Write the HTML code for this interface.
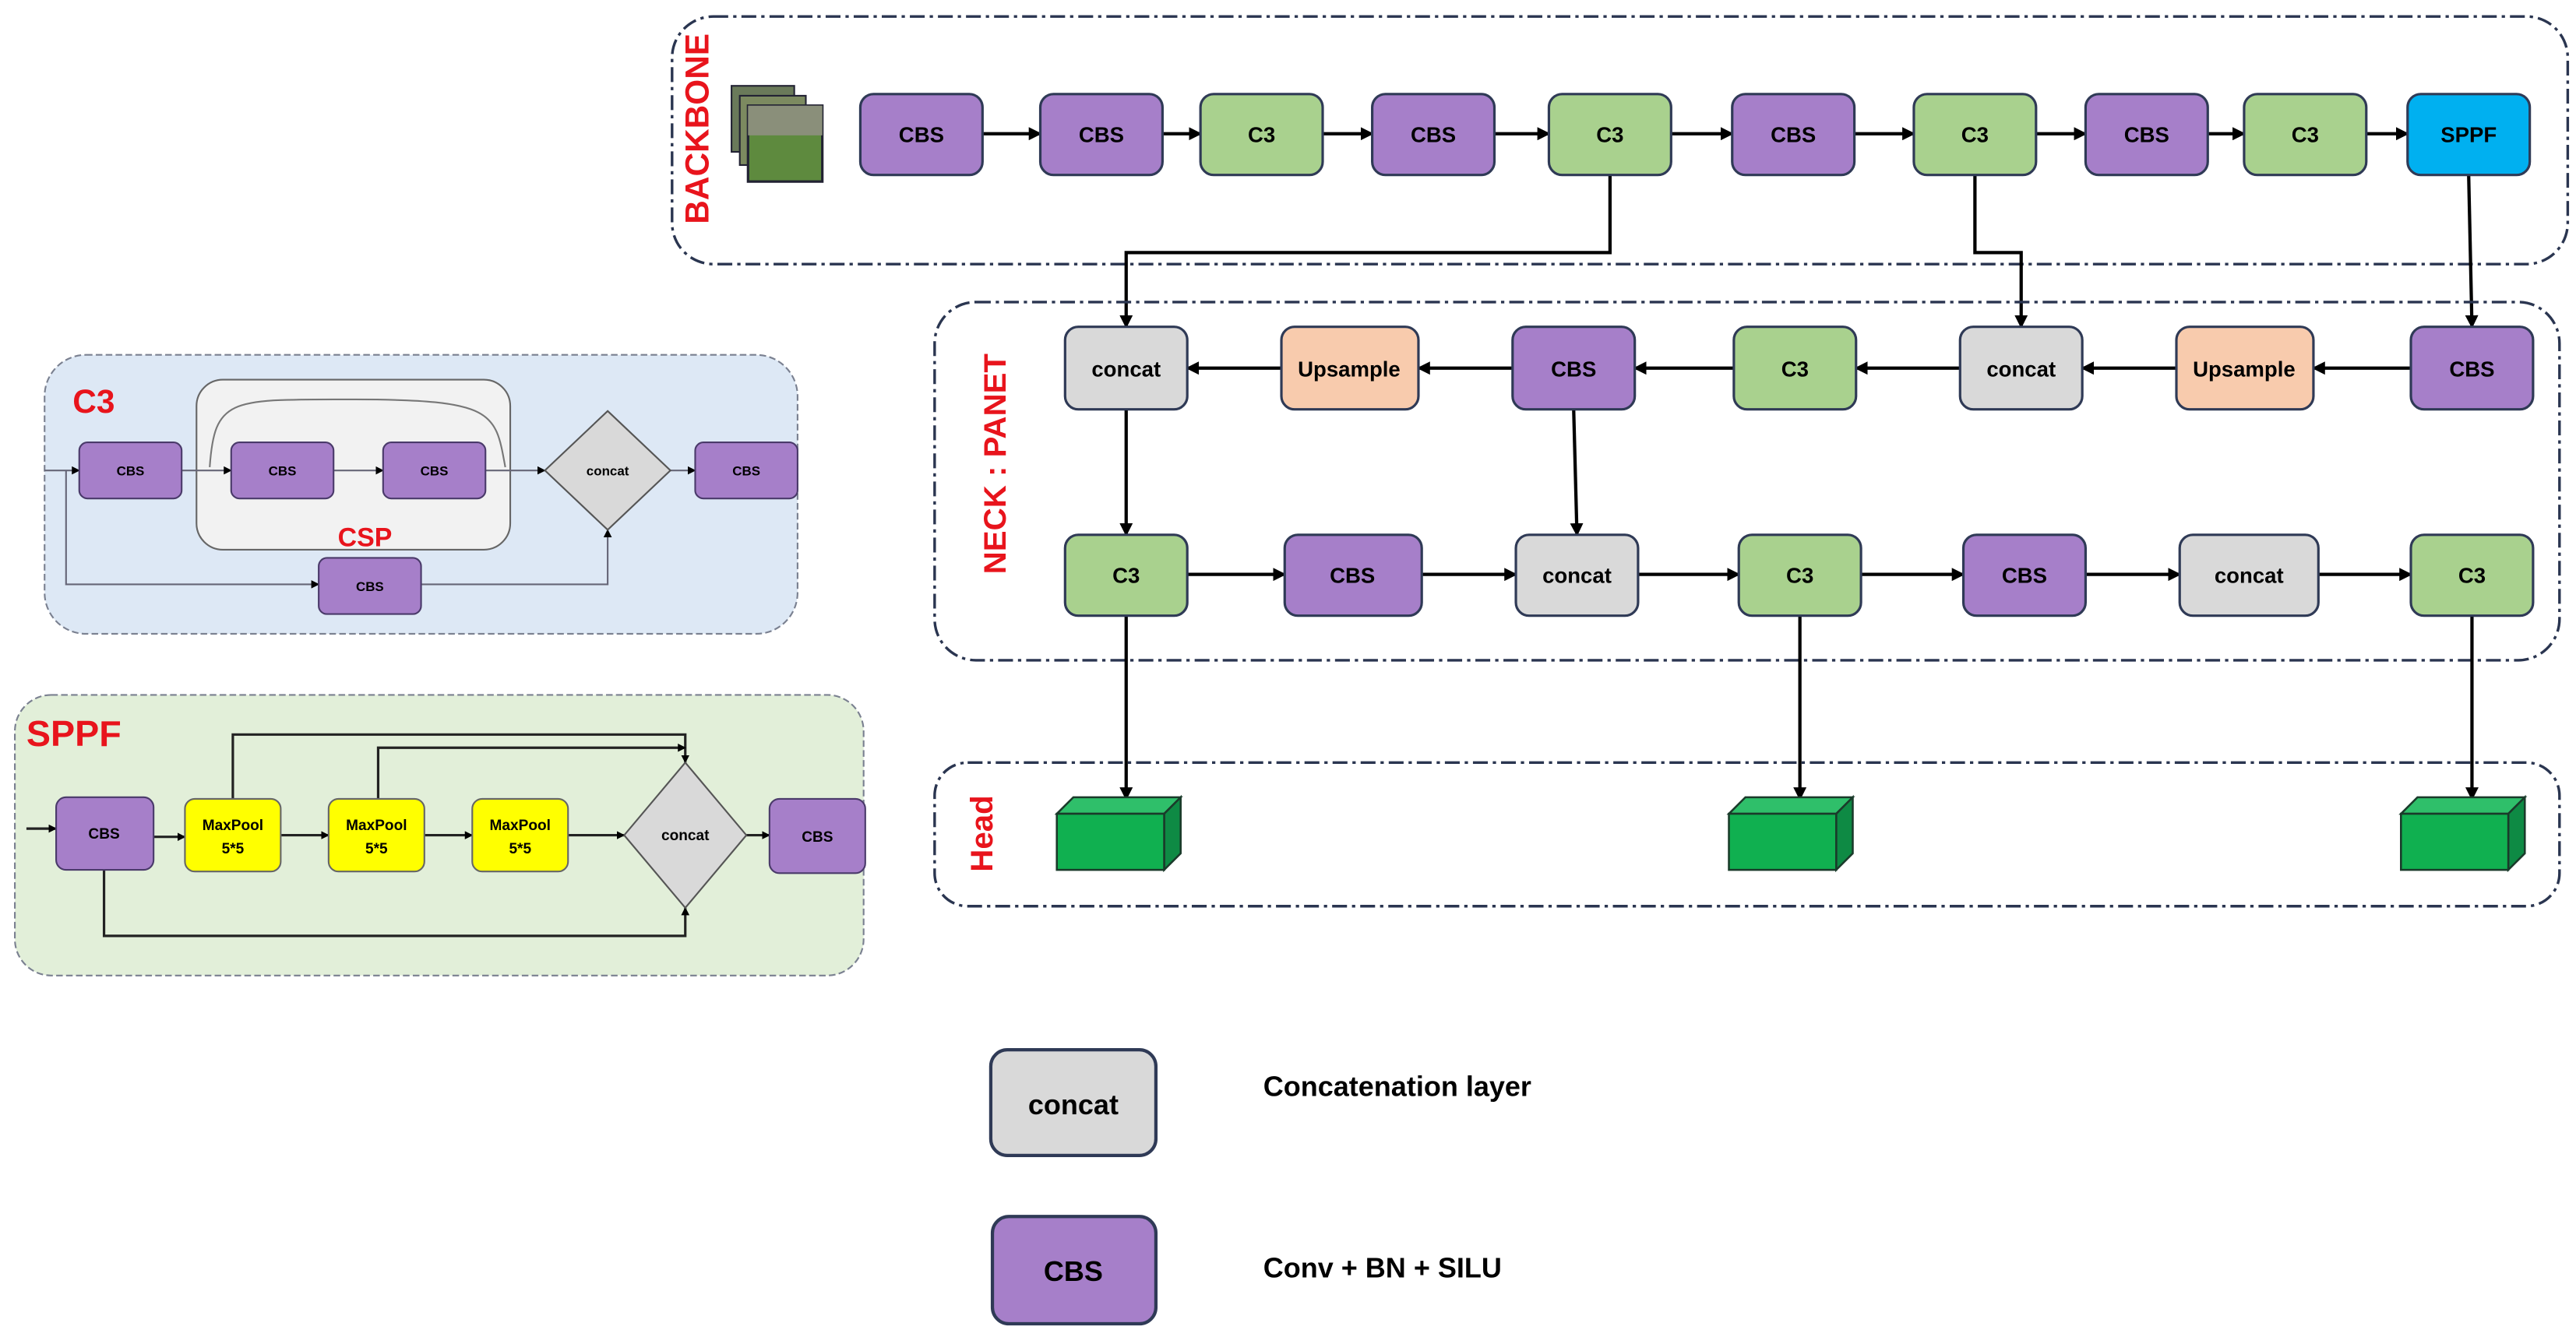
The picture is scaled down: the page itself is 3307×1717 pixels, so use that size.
<!DOCTYPE html>
<html><head><meta charset="utf-8"><style>html,body{margin:0;padding:0;background:#fff}svg{display:block}text{font-family:"Liberation Sans Narrow","Liberation Sans",sans-serif;font-weight:bold}</style></head>
<body>
<svg width="3307" height="1717" viewBox="0 0 1560 810" preserveAspectRatio="none" xmlns="http://www.w3.org/2000/svg">
<defs>
<marker id="a" markerWidth="8" markerHeight="8" refX="7" refY="4" orient="auto" markerUnits="userSpaceOnUse"><path d="M0,0 L8,4 L0,8 z" fill="#000"/></marker>
<marker id="s" markerWidth="5" markerHeight="5" refX="4.5" refY="2.5" orient="auto" markerUnits="userSpaceOnUse"><path d="M0,0 L5,2.5 L0,5 z" fill="#000"/></marker>
</defs>
<rect width="1560" height="810" fill="#fff"/>
<!-- Backbone -->
<rect x="407" y="10" width="1148" height="150" rx="25" fill="none" stroke="#2a3550" stroke-width="1.6" stroke-dasharray="9,3,2,3"/>
<text transform="translate(429,78) rotate(-90)" text-anchor="middle" font-size="20" fill="#e8141c" font-family="Liberation Sans">BACKBONE</text>
<rect x="443" y="52" width="38" height="40" fill="#6a7a5a" stroke="#223" stroke-width="1"/>
<rect x="448" y="58" width="40" height="42" fill="#7c8a60" stroke="#223" stroke-width="1"/>
<rect x="453" y="64" width="45" height="46" fill="#5e8a3e" stroke="#223" stroke-width="1.5"/>
<rect x="453" y="64" width="45" height="18" fill="#8a8f7a"/>
<g stroke="#000" stroke-width="2" marker-end="url(#a)" fill="none">
<line x1="595" y1="81" x2="630" y2="81"/><line x1="704" y1="81" x2="727" y2="81"/><line x1="801" y1="81" x2="831" y2="81"/><line x1="905" y1="81" x2="938" y2="81"/><line x1="1012" y1="81" x2="1049" y2="81"/><line x1="1123" y1="81" x2="1159" y2="81"/><line x1="1233" y1="81" x2="1263" y2="81"/><line x1="1337" y1="81" x2="1359" y2="81"/><line x1="1433" y1="81" x2="1458" y2="81"/>
<polyline points="975,106 975,153 682,153 682,198"/>
<polyline points="1196,106 1196,153 1224,153 1224,198"/>
<line x1="1495" y1="106" x2="1497" y2="198"/>
</g>
<g stroke="#2f3a56" stroke-width="1.5" font-size="13" text-anchor="middle">
<rect x="521" y="57" width="74" height="49" rx="8" fill="#a67fc9"/><text x="558" y="86" stroke="none">CBS</text>
<rect x="630" y="57" width="74" height="49" rx="8" fill="#a67fc9"/><text x="667" y="86" stroke="none">CBS</text>
<rect x="727" y="57" width="74" height="49" rx="8" fill="#a9d18e"/><text x="764" y="86" stroke="none">C3</text>
<rect x="831" y="57" width="74" height="49" rx="8" fill="#a67fc9"/><text x="868" y="86" stroke="none">CBS</text>
<rect x="938" y="57" width="74" height="49" rx="8" fill="#a9d18e"/><text x="975" y="86" stroke="none">C3</text>
<rect x="1049" y="57" width="74" height="49" rx="8" fill="#a67fc9"/><text x="1086" y="86" stroke="none">CBS</text>
<rect x="1159" y="57" width="74" height="49" rx="8" fill="#a9d18e"/><text x="1196" y="86" stroke="none">C3</text>
<rect x="1263" y="57" width="74" height="49" rx="8" fill="#a67fc9"/><text x="1300" y="86" stroke="none">CBS</text>
<rect x="1359" y="57" width="74" height="49" rx="8" fill="#a9d18e"/><text x="1396" y="86" stroke="none">C3</text>
<rect x="1458" y="57" width="74" height="49" rx="8" fill="#00b0f0"/><text x="1495" y="86" stroke="none">SPPF</text>
</g>
<!-- Neck -->
<rect x="566" y="183" width="984" height="217" rx="25" fill="none" stroke="#2a3550" stroke-width="1.6" stroke-dasharray="9,3,2,3"/>
<text transform="translate(609,281) rotate(-90)" text-anchor="middle" font-size="19" fill="#e8141c" font-family="Liberation Sans">NECK : PANET</text>
<g stroke="#000" stroke-width="2" marker-end="url(#a)" fill="none">
<line x1="1460" y1="223" x2="1401" y2="223"/><line x1="1318" y1="223" x2="1261" y2="223"/><line x1="1187" y1="223" x2="1124" y2="223"/><line x1="1050" y1="223" x2="990" y2="223"/><line x1="916" y1="223" x2="859" y2="223"/><line x1="776" y1="223" x2="719" y2="223"/>
<line x1="682" y1="248" x2="682" y2="324"/><line x1="953" y1="248" x2="955" y2="324"/>
<line x1="719" y1="348" x2="778" y2="348"/><line x1="861" y1="348" x2="918" y2="348"/><line x1="992" y1="348" x2="1053" y2="348"/><line x1="1127" y1="348" x2="1189" y2="348"/><line x1="1263" y1="348" x2="1320" y2="348"/><line x1="1404" y1="348" x2="1460" y2="348"/>
<line x1="682" y1="373" x2="682" y2="484"/><line x1="1090" y1="373" x2="1090" y2="484"/><line x1="1497" y1="373" x2="1497" y2="484"/>
</g>
<g stroke="#2f3a56" stroke-width="1.5" font-size="13" text-anchor="middle">
<rect x="645" y="198" width="74" height="50" rx="8" fill="#d9d9d9"/><text x="682" y="228" stroke="none">concat</text>
<rect x="776" y="198" width="83" height="50" rx="8" fill="#f8cbad"/><text x="817" y="228" stroke="none">Upsample</text>
<rect x="916" y="198" width="74" height="50" rx="8" fill="#a67fc9"/><text x="953" y="228" stroke="none">CBS</text>
<rect x="1050" y="198" width="74" height="50" rx="8" fill="#a9d18e"/><text x="1087" y="228" stroke="none">C3</text>
<rect x="1187" y="198" width="74" height="50" rx="8" fill="#d9d9d9"/><text x="1224" y="228" stroke="none">concat</text>
<rect x="1318" y="198" width="83" height="50" rx="8" fill="#f8cbad"/><text x="1359" y="228" stroke="none">Upsample</text>
<rect x="1460" y="198" width="74" height="50" rx="8" fill="#a67fc9"/><text x="1497" y="228" stroke="none">CBS</text>
<rect x="645" y="324" width="74" height="49" rx="8" fill="#a9d18e"/><text x="682" y="353" stroke="none">C3</text>
<rect x="778" y="324" width="83" height="49" rx="8" fill="#a67fc9"/><text x="819" y="353" stroke="none">CBS</text>
<rect x="918" y="324" width="74" height="49" rx="8" fill="#d9d9d9"/><text x="955" y="353" stroke="none">concat</text>
<rect x="1053" y="324" width="74" height="49" rx="8" fill="#a9d18e"/><text x="1090" y="353" stroke="none">C3</text>
<rect x="1189" y="324" width="74" height="49" rx="8" fill="#a67fc9"/><text x="1226" y="353" stroke="none">CBS</text>
<rect x="1320" y="324" width="84" height="49" rx="8" fill="#d9d9d9"/><text x="1362" y="353" stroke="none">concat</text>
<rect x="1460" y="324" width="74" height="49" rx="8" fill="#a9d18e"/><text x="1497" y="353" stroke="none">C3</text>
</g>
<!-- Head -->
<rect x="566" y="462" width="984" height="87" rx="20" fill="none" stroke="#2a3550" stroke-width="1.6" stroke-dasharray="9,3,2,3"/>
<text transform="translate(601,505) rotate(-90)" text-anchor="middle" font-size="19" fill="#e8141c" font-family="Liberation Sans">Head</text>
<g stroke="#1a3a2a" stroke-width="1.2">
<g transform="translate(640,0)"><path d="M0,493 L10,483 L75,483 L65,493 z" fill="#2fbf6a"/><path d="M65,493 L75,483 L75,517 L65,527 z" fill="#0e8a44"/><rect x="0" y="493" width="65" height="34" fill="#10b050"/></g>
<g transform="translate(1047,0)"><path d="M0,493 L10,483 L75,483 L65,493 z" fill="#2fbf6a"/><path d="M65,493 L75,483 L75,517 L65,527 z" fill="#0e8a44"/><rect x="0" y="493" width="65" height="34" fill="#10b050"/></g>
<g transform="translate(1454,0)"><path d="M0,493 L10,483 L75,483 L65,493 z" fill="#2fbf6a"/><path d="M65,493 L75,483 L75,517 L65,527 z" fill="#0e8a44"/><rect x="0" y="493" width="65" height="34" fill="#10b050"/></g>
</g>
<!-- C3 panel -->
<rect x="27" y="215" width="456" height="169" rx="25" fill="#dde8f5" stroke="#7a8090" stroke-width="1" stroke-dasharray="4,2"/>
<text x="44" y="250" font-size="20" fill="#e8141c">C3</text>
<rect x="119" y="230" width="190" height="103" rx="16" fill="#f2f2f2" stroke="#666" stroke-width="1"/>
<path d="M127,283 C130,240 140,242 215,242 C300,242 300,250 306,283" fill="none" stroke="#777" stroke-width="1"/>
<text x="221" y="331" font-size="16" fill="#e8141c" text-anchor="middle">CSP</text>
<g stroke="#667" stroke-width="1" fill="none" marker-end="url(#s)">
<line x1="27" y1="285" x2="48" y2="285"/><line x1="110" y1="285" x2="140" y2="285"/><line x1="202" y1="285" x2="232" y2="285"/><line x1="294" y1="285" x2="330" y2="285"/><line x1="406" y1="285" x2="421" y2="285"/>
<polyline points="40,285 40,354 193,354"/><polyline points="255,354 368,354 368,321"/>
</g>
<g stroke="#4a3a6a" stroke-width="1" font-size="8" text-anchor="middle">
<rect x="48" y="268" width="62" height="34" rx="5" fill="#a67fc9"/><text x="79" y="288" stroke="none">CBS</text>
<rect x="140" y="268" width="62" height="34" rx="5" fill="#a67fc9"/><text x="171" y="288" stroke="none">CBS</text>
<rect x="232" y="268" width="62" height="34" rx="5" fill="#a67fc9"/><text x="263" y="288" stroke="none">CBS</text>
<rect x="421" y="268" width="62" height="34" rx="5" fill="#a67fc9"/><text x="452" y="288" stroke="none">CBS</text>
<rect x="193" y="338" width="62" height="34" rx="5" fill="#a67fc9"/><text x="224" y="358" stroke="none">CBS</text>
<path d="M368,249 L406,285 L368,321 L330,285 z" fill="#d9d9d9" stroke="#555"/><text x="368" y="288" stroke="none">concat</text>
</g>
<!-- SPPF panel -->
<rect x="9" y="421" width="514" height="170" rx="22" fill="#e2efd9" stroke="#7a8090" stroke-width="1" stroke-dasharray="4,2"/>
<text x="16" y="452" font-size="22" fill="#e8141c">SPPF</text>
<g stroke="#222" stroke-width="1.5" fill="none" marker-end="url(#s)">
<line x1="16" y1="502" x2="34" y2="502"/><line x1="93" y1="507" x2="112" y2="507"/><line x1="170" y1="506" x2="199" y2="506"/><line x1="257" y1="506" x2="286" y2="506"/><line x1="344" y1="506" x2="378" y2="506"/><line x1="452" y1="506" x2="466" y2="506"/>
<polyline points="141,484 141,445 415,445 415,462"/><polyline points="229,484 229,453 415,453"/><polyline points="63,527 63,567 415,567 415,550"/>
</g>
<g stroke="#4a3a6a" stroke-width="1" font-size="9" text-anchor="middle">
<rect x="34" y="483" width="59" height="44" rx="6" fill="#a67fc9"/><text x="63" y="508" stroke="none">CBS</text>
<rect x="112" y="484" width="58" height="44" rx="6" fill="#ffff00" stroke="#666"/><text x="141" y="503" stroke="none">MaxPool</text><text x="141" y="517" stroke="none">5*5</text>
<rect x="199" y="484" width="58" height="44" rx="6" fill="#ffff00" stroke="#666"/><text x="228" y="503" stroke="none">MaxPool</text><text x="228" y="517" stroke="none">5*5</text>
<rect x="286" y="484" width="58" height="44" rx="6" fill="#ffff00" stroke="#666"/><text x="315" y="503" stroke="none">MaxPool</text><text x="315" y="517" stroke="none">5*5</text>
<rect x="466" y="484" width="58" height="45" rx="6" fill="#a67fc9"/><text x="495" y="510" stroke="none">CBS</text>
<path d="M415,462 L452,506 L415,550 L378,506 z" fill="#d9d9d9" stroke="#555"/><text x="415" y="509" stroke="none">concat</text>
</g>
<!-- Legend -->
<rect x="600" y="636" width="100" height="64" rx="10" fill="#d9d9d9" stroke="#2f3a56" stroke-width="2"/>
<text x="650" y="675" font-size="17" text-anchor="middle" font-family="Liberation Sans">concat</text>
<text x="765" y="664" font-size="17" font-family="Liberation Sans">Concatenation layer</text>
<rect x="601" y="737" width="99" height="65" rx="10" fill="#a67fc9" stroke="#2f3a56" stroke-width="2"/>
<text x="650" y="776" font-size="17" text-anchor="middle" font-family="Liberation Sans">CBS</text>
<text x="765" y="774" font-size="17" font-family="Liberation Sans">Conv + BN + SILU</text>
</svg>
</body></html>
